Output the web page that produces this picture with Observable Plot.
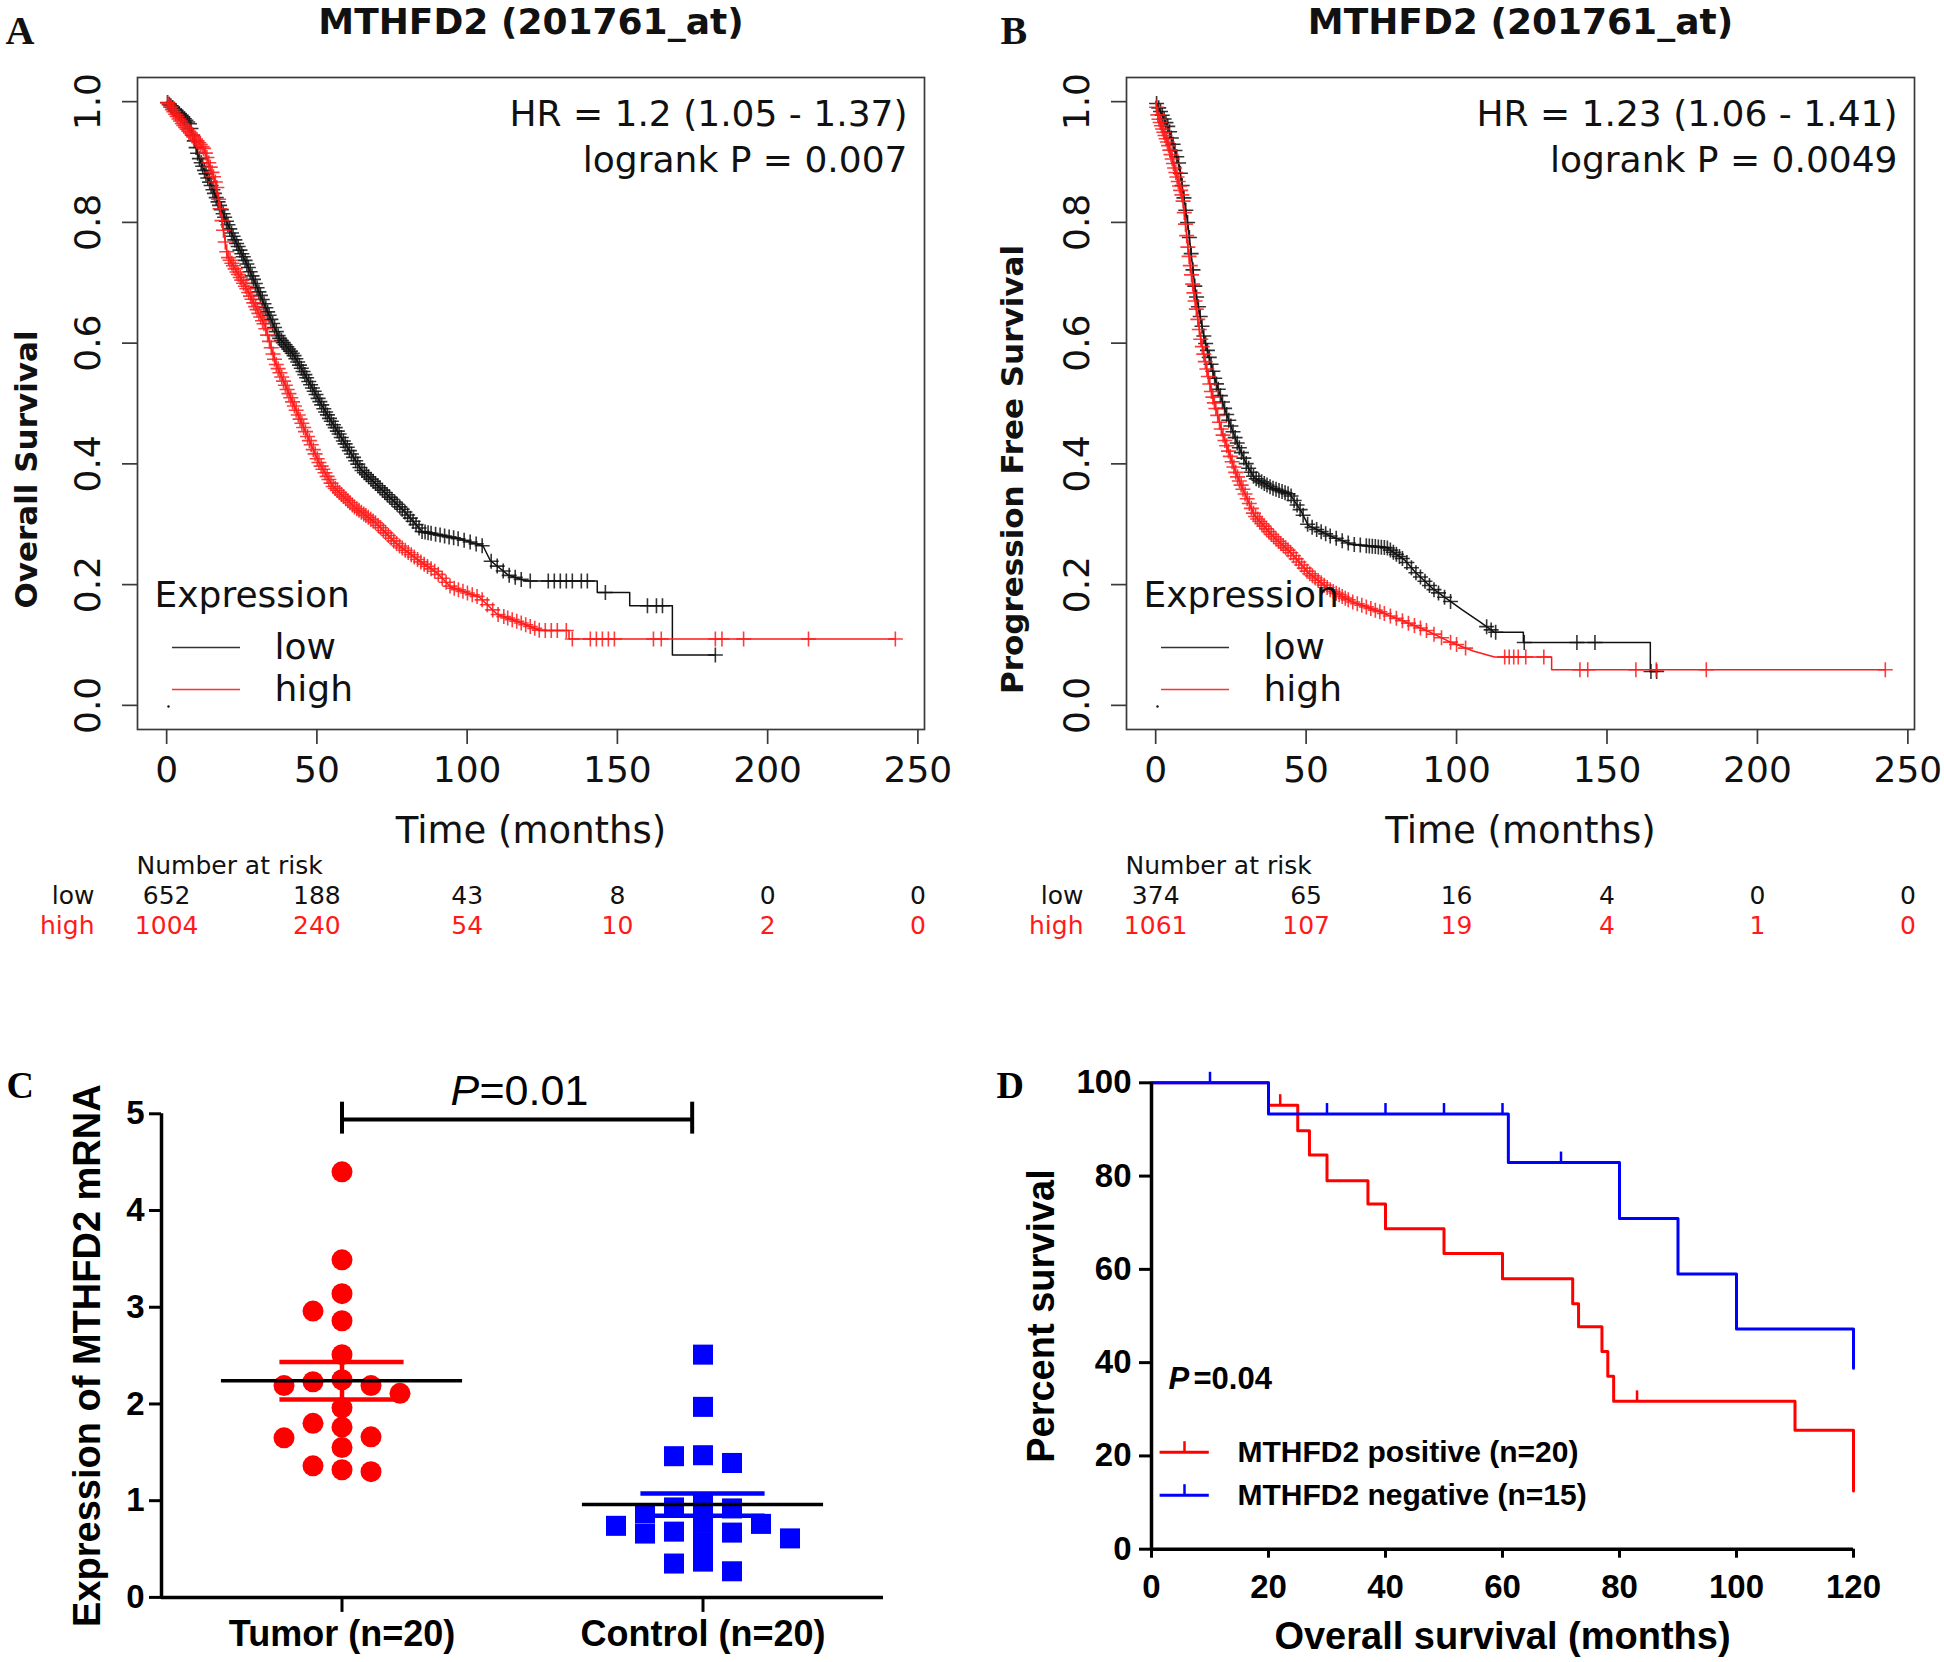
<!DOCTYPE html>
<html><head><meta charset="utf-8">
<script src="https://cdn.jsdelivr.net/npm/d3@7"></script>
<script src="https://cdn.jsdelivr.net/npm/@observablehq/plot@0.6"></script>
<style>
body{margin:0;background:#fff;}
#root{position:relative;width:1944px;height:1662px;overflow:hidden;background:#fff;}
</style></head><body><div id="root"></div>
<script>
// ---------------- Panel A data ----------------
const aTitle = "MTHFD2 (201761_at)";
const aYLabel = "Overall Survival";
const aHR = ["HR = 1.2 (1.05 - 1.37)", "logrank P = 0.007"];
const aLowTime = [0, 7.7, 10.6, 14.8, 18.3, 21.9, 26.7, 32.6, 37.4, 42.2, 46.9, 52.9, 58.8, 64.8, 71.9, 79, 85, 92, 98, 105.3, 107.7, 113.6, 119.6, 143.3, 143.3, 154.1, 154.1, 168.3, 168.3, 182.6];
const aLowSurv = [1.0, 0.963, 0.909, 0.861, 0.82, 0.779, 0.731, 0.663, 0.609, 0.581, 0.540, 0.486, 0.438, 0.390, 0.356, 0.322, 0.288, 0.281, 0.275, 0.264, 0.240, 0.216, 0.206, 0.206, 0.187, 0.187, 0.165, 0.165, 0.0835, 0.0835];
const aHighTime = [0, 5.3, 12.4, 16.6, 20.2, 26.7, 32.7, 36.2, 41, 45.8, 50.5, 55.3, 62.4, 69.6, 76.7, 83.9, 89.8, 94.6, 104.1, 110, 117.2, 124.3, 133.9, 133.9, 242.5];
const aHighSurv = [1.0, 0.963, 0.922, 0.861, 0.745, 0.690, 0.629, 0.568, 0.513, 0.458, 0.404, 0.363, 0.329, 0.302, 0.267, 0.240, 0.220, 0.196, 0.179, 0.151, 0.138, 0.124, 0.124, 0.110, 0.110];
const aLowCensor = [0.3, 0.9, 1.4, 2, 2.6, 3.1, 3.7, 4.2, 4.8, 5.3, 5.9, 6.4, 7, 7.6, 8.1, 8.7, 9.2, 9.8, 10.3, 10.9, 11.5, 12, 12.6, 13.1, 13.7, 14.3, 14.8, 15.4, 15.9, 16.5, 17.1, 17.6, 18.2, 18.8, 19.3, 19.9, 20.4, 21, 21.6, 22.1, 22.7, 23.3, 23.8, 24.4, 25, 25.5, 26.1, 26.7, 27.2, 27.8, 28.4, 28.9, 29.5, 30.1, 30.7, 31.2, 31.8, 32.4, 33, 33.6, 34.1, 34.7, 35.3, 35.9, 36.5, 37.1, 37.6, 38.2, 38.8, 39.4, 40, 40.6, 41.2, 41.8, 42.4, 43, 43.6, 44.2, 44.8, 45.4, 46, 46.6, 47.3, 47.9, 48.5, 49.1, 49.7, 50.4, 51, 51.6, 52.3, 52.9, 53.5, 54.2, 54.8, 55.5, 56.1, 56.8, 57.4, 58.1, 58.8, 59.4, 60.1, 60.8, 61.5, 62.2, 62.9, 63.6, 64.3, 65, 65.8, 66.5, 67.2, 68, 68.7, 69.5, 70.3, 71, 71.8, 72.6, 73.4, 74.2, 75, 75.9, 76.7, 77.6, 78.4, 79.3, 80.2, 81.1, 82, 83, 84, 85, 86, 87, 88, 89.5, 91, 92.5, 94, 95.5, 97, 99, 101, 103, 105, 108, 110, 112, 114, 116, 118, 121, 127, 129, 131, 133, 135, 138, 140, 146, 160, 163, 165, 182.6];
const aHighCensor = [0.3, 0.8, 1.3, 1.9, 2.4, 3, 3.5, 4.1, 4.6, 5.2, 5.7, 6.3, 6.8, 7.4, 7.9, 8.5, 9, 9.6, 10.1, 10.7, 11.2, 11.8, 12.3, 12.9, 13.4, 14, 14.5, 15.1, 15.6, 16.2, 16.7, 17.3, 17.8, 18.4, 18.9, 19.5, 20, 20.6, 21.1, 21.7, 22.2, 22.8, 23.4, 23.9, 24.5, 25, 25.6, 26.2, 26.7, 27.3, 27.9, 28.4, 29, 29.6, 30.1, 30.7, 31.3, 31.9, 32.4, 33, 33.6, 34.2, 34.8, 35.4, 35.9, 36.5, 37.1, 37.7, 38.3, 38.9, 39.5, 40.1, 40.7, 41.3, 41.9, 42.5, 43.1, 43.8, 44.4, 45, 45.6, 46.2, 46.9, 47.5, 48.1, 48.8, 49.4, 50.1, 50.7, 51.4, 52, 52.7, 53.4, 54, 54.7, 55.4, 56.1, 56.8, 57.5, 58.2, 58.9, 59.6, 60.3, 61, 61.8, 62.5, 63.3, 64, 64.8, 65.6, 66.3, 67.1, 67.9, 68.7, 69.5, 70.4, 71.2, 72.1, 72.9, 73.8, 74.7, 75.6, 76.5, 77.5, 78.4, 79.4, 80.4, 81.4, 82.4, 83.5, 84.6, 85.7, 86.8, 88, 89.2, 90.4, 91.7, 93, 94.3, 95.7, 97.1, 98.6, 100.1, 101.7, 103.3, 105, 106.7, 108.5, 110.3, 112.2, 113.5, 115, 116.5, 118, 119.5, 121, 122.5, 124, 126, 128, 130, 133, 135, 141, 143, 145, 147, 149, 162, 164.6, 182.6, 184.8, 192, 213.6, 242.5];
// ---------------- Panel B data ----------------
const bTitle = "MTHFD2 (201761_at)";
const bYLabel = "Progression Free Survival";
const bHR = ["HR = 1.23 (1.06 - 1.41)", "logrank P = 0.0049"];
const bLowTime = [0, 4.2, 7.8, 10.8, 13.1, 16.1, 19.7, 23.3, 26.8, 30.4, 32.8, 38.8, 44.7, 48.3, 50.7, 57.8, 65, 76.9, 82.9, 86.4, 92.4, 101.9, 107.9, 112.6, 122.2, 122.2, 164.4, 164.4, 166.5];
const bLowSurv = [1.0, 0.957, 0.895, 0.793, 0.690, 0.609, 0.540, 0.486, 0.438, 0.397, 0.377, 0.360, 0.349, 0.322, 0.298, 0.281, 0.267, 0.261, 0.240, 0.220, 0.192, 0.158, 0.138, 0.121, 0.121, 0.104, 0.104, 0.056, 0.056];
const bHighTime = [0, 0.8, 4.2, 9, 10.7, 12.5, 14.9, 18.5, 22.1, 26.8, 32.8, 38.8, 44.7, 50.7, 57.8, 65, 74.5, 81.6, 90, 98.3, 105.5, 112.6, 131.6, 131.6, 242.5];
const bHighSurv = [1.0, 0.975, 0.929, 0.840, 0.759, 0.690, 0.609, 0.520, 0.452, 0.383, 0.315, 0.281, 0.254, 0.220, 0.192, 0.172, 0.155, 0.141, 0.124, 0.104, 0.090, 0.080, 0.080, 0.059, 0.059];
const bLowCensor = [0.3, 1, 1.6, 2.2, 2.8, 3.4, 4, 4.6, 5.2, 5.8, 6.4, 7, 7.6, 8.2, 8.8, 9.4, 10, 10.6, 11.2, 11.8, 12.4, 13, 13.6, 14.2, 14.8, 15.4, 16, 16.6, 17.2, 17.8, 18.4, 19, 19.6, 20.2, 20.8, 21.5, 22.2, 22.9, 23.6, 24.3, 25, 25.7, 26.4, 27.1, 27.8, 28.5, 29.3, 30.1, 30.9, 31.7, 32.5, 33.4, 34.3, 35.2, 36.1, 37, 38, 39, 40, 41, 42, 43, 44, 45, 46, 47, 48, 49, 50.5, 52, 53.5, 55, 56.5, 58, 60, 62, 64, 66, 68, 70, 71, 72, 73, 74, 75, 76, 77, 78, 79, 80, 81, 82, 83.5, 85, 86.5, 88, 89.5, 91, 92.5, 94, 96, 98, 110, 111.5, 113, 122.5, 140, 146, 164.6, 166.5];
const bHighCensor = [0.3, 0.7, 1.1, 1.5, 1.9, 2.3, 2.7, 3.1, 3.5, 3.9, 4.3, 4.7, 5.1, 5.5, 5.9, 6.3, 6.7, 7.1, 7.5, 7.9, 8.3, 8.7, 9.1, 9.5, 9.9, 10.3, 10.7, 11.1, 11.5, 11.9, 12.3, 12.7, 13.1, 13.5, 14, 14.5, 15, 15.5, 16, 16.5, 17, 17.5, 18, 18.5, 19, 19.5, 20, 20.6, 21.2, 21.8, 22.4, 23, 23.6, 24.2, 24.8, 25.4, 26, 26.6, 27.2, 27.8, 28.4, 29, 29.7, 30.4, 31.1, 31.8, 32.5, 33.2, 33.9, 34.6, 35.3, 36, 36.8, 37.6, 38.4, 39.2, 40, 40.8, 41.6, 42.4, 43.2, 44, 44.9, 45.8, 46.7, 47.6, 48.5, 49.4, 50.3, 51.2, 52.1, 53, 54, 55, 56, 57, 58, 59, 60, 61, 62, 63, 64, 65.5, 67, 68.5, 70, 71.5, 73, 74.5, 76, 78, 80, 82, 84, 86, 88, 90, 92.5, 95, 98, 100, 103, 116, 117.5, 119, 120.5, 123, 129, 141, 143.6, 159.6, 166.4, 183, 242.5];
// ---------------- shared risk table ----------------
const riskTimes = [0, 50, 100, 150, 200, 250];
const aRiskLow = [652, 188, 43, 8, 0, 0];
const aRiskHigh = [1004, 240, 54, 10, 2, 0];
const bRiskLow = [374, 65, 16, 4, 0, 0];
const bRiskHigh = [1061, 107, 19, 4, 1, 0];
const kmXTicks = [0, 50, 100, 150, 200, 250];
const kmYTicks = [0, 0.2, 0.4, 0.6, 0.8, 1.0];
const groupNames = ["low", "high"];
// ---------------- Panel C data ----------------
const cCategories = ["Tumor (n=20)", "Control (n=20)"];
const cYLabel = "Expression of MTHFD2 mRNA";
const tumorExpr = [4.40, 3.49, 3.14, 2.96, 2.86, 2.51, 2.25, 2.23, 2.19, 2.19, 2.11, 1.96, 1.80, 1.76, 1.66, 1.65, 1.55, 1.36, 1.32, 1.30];
const controlExpr = [2.51, 1.97, 1.47, 1.46, 1.39, 0.97, 0.93, 0.92, 0.87, 0.77, 0.76, 0.74, 0.68, 0.67, 0.66, 0.61, 0.57, 0.37, 0.35, 0.27];
const cMeans = [2.24, 0.96];
const cSems = [0.195, 0.115];
const cPValue = "=0.01";
const cYTicks = [0, 1, 2, 3, 4, 5];
// ---------------- Panel D data ----------------
const dPosTime = [0, 20, 25, 27, 30, 37, 40, 50, 60, 72, 73, 77, 78, 79, 110, 120];
const dPosSurv = [100, 95.2, 89.7, 84.5, 79.0, 74.0, 68.7, 63.4, 58.0, 52.6, 47.7, 42.4, 37.1, 31.7, 25.5, 12.5];
const dNegTime = [0, 20, 61, 80, 90, 100, 120];
const dNegSurv = [100, 93.3, 82.9, 70.9, 59.0, 47.2, 38.8];
const dPosCensor = [22, 83];
const dNegCensor = [10, 30, 40, 50, 60, 70];
const dLegend = ["MTHFD2 positive (n=20)", "MTHFD2 negative (n=15)"];
const dPValue = "=0.04";
const dXTicks = [0, 20, 40, 60, 80, 100, 120];
const dYTicks = [0, 20, 40, 60, 80, 100];
const dXLabel = "Overall survival (months)";
const dYLabel = "Percent survival";

// ---------------- helpers ----------------
const root = document.getElementById("root");
function place(el, left, top) {
  el.style.position = "absolute";
  el.style.left = left + "px";
  el.style.top = top + "px";
  root.appendChild(el);
}
function interpLinear(ts, ss, t) {
  let i = 0;
  for (let k = 0; k < ts.length; k++) if (ts[k] <= t) i = k;
  if (i < ts.length - 1 && ts[i + 1] > ts[i]) {
    const f = (t - ts[i]) / (ts[i + 1] - ts[i]);
    return ss[i] + f * (ss[i + 1] - ss[i]);
  }
  return ss[i];
}
function stepValue(ts, ss, t) {
  let i = 0;
  for (let k = 0; k < ts.length; k++) if (ts[k] <= t) i = k;
  return ss[i];
}
const plusSymbol = {draw(ctx, size) {
  const r = Math.sqrt(size / Math.PI);
  ctx.moveTo(-r, 0); ctx.lineTo(r, 0); ctx.moveTo(0, -r); ctx.lineTo(0, r);
}};
const tickUpSymbol = {draw(ctx, size) {
  const r = Math.sqrt(size / Math.PI);
  ctx.moveTo(0, 0); ctx.lineTo(0, -r);
}};
const T = {textAnchor: "middle", lineAnchor: "middle"};

// ---------------- KM panels (A, B) ----------------
function kmPanel(cfg) {
  const svgLeft = cfg.svgLeft, svgW = 972, svgH = 960;
  const frameTop = 77, frameBottom = 729;
  const xd = [-9.7, 252.2], yd = [-0.04, 1.04];
  const fw = cfg.frameRight - cfg.frameLeft, fh = frameBottom - frameTop;
  const pxX = px => xd[0] + px * (xd[1] - xd[0]) / fw;
  const pxY = px => yd[0] + px * (yd[1] - yd[0]) / fh;
  const low = cfg.lowTime.map((t, i) => ({t, s: cfg.lowSurv[i]}));
  const high = cfg.highTime.map((t, i) => ({t, s: cfg.highSurv[i]}));
  const lowC = cfg.lowCensor.map(t => ({t, s: interpLinear(cfg.lowTime, cfg.lowSurv, t)}));
  const highC = cfg.highCensor.map(t => ({t, s: interpLinear(cfg.highTime, cfg.highSurv, t)}));
  const rLow = riskTimes.map((t, i) => ({t, n: cfg.riskLow[i]}));
  const rHigh = riskTimes.map((t, i) => ({t, n: cfg.riskHigh[i]}));
  const RED = "#ff1a1a", BLK = "#111";
  const legendRows = [{name: groupNames[0], color: "#333", y: pxY(82)}, {name: groupNames[1], color: "#ff3030", y: pxY(40)}];
  return Plot.plot({
    width: svgW, height: svgH,
    marginLeft: cfg.frameLeft - svgLeft, marginRight: svgLeft + svgW - cfg.frameRight,
    marginTop: frameTop, marginBottom: svgH - frameBottom,
    x: {domain: xd}, y: {domain: yd},
    style: {fontFamily: "DejaVu Sans", background: "transparent", overflow: "visible", color: BLK},
    marks: [
      Plot.frame({stroke: "#3a3a3a", strokeWidth: 1.7}),
      Plot.axisX({ticks: kmXTicks, tickSize: 15, tickFormat: () => "", stroke: "#3a3a3a", strokeWidth: 1.7, label: null}),
      Plot.axisY({ticks: kmYTicks, tickSize: 15, tickFormat: () => "", stroke: "#3a3a3a", strokeWidth: 1.7, label: null}),
      Plot.text(kmXTicks, {...T, x: d => d, text: d => String(d), frameAnchor: "bottom", dy: 41, fontSize: 36, fill: BLK}),
      Plot.text(kmYTicks, {...T, y: d => d, text: d => d.toFixed(1), frameAnchor: "left", dx: -49, rotate: -90, fontSize: 36, fill: BLK}),
      Plot.text([cfg.yLabel], {...T, text: d => d, frameAnchor: "left", dx: cfg.yLabelX - cfg.frameLeft, dy: 66, rotate: -90, fontSize: 31, fontWeight: "bold", fill: BLK}),
      Plot.text(["Time (months)"], {...T, text: d => d, frameAnchor: "bottom", dy: 102, fontSize: 37, fill: BLK}),
      Plot.text([cfg.title], {...T, text: d => d, frameAnchor: "top", dy: -55, fontSize: 36, fontWeight: "bold", fill: BLK}),
      Plot.text([cfg.letter], {text: d => d, frameAnchor: "top-left", textAnchor: "start", lineAnchor: "middle", dx: cfg.letterX - cfg.frameLeft, dy: -46, fontSize: 40, fontWeight: "bold", fontFamily: "Liberation Serif", fill: BLK}),
      Plot.text([cfg.hr[0]], {text: d => d, frameAnchor: "top-right", textAnchor: "end", lineAnchor: "middle", dx: -17, dy: 37, fontSize: 36, fill: BLK}),
      Plot.text([cfg.hr[1]], {text: d => d, frameAnchor: "top-right", textAnchor: "end", lineAnchor: "middle", dx: -17, dy: 83, fontSize: 36, fill: BLK}),
      // curves
      Plot.line(low, {x: "t", y: "s", stroke: BLK, strokeWidth: 1.5}),
      Plot.dot(lowC, {x: "t", y: "s", symbol: plusSymbol, r: 7.5, stroke: BLK, fill: "none", strokeWidth: 1.6, strokeOpacity: 0.85}),
      Plot.line(high, {x: "t", y: "s", stroke: RED, strokeWidth: 1.5}),
      Plot.dot(highC, {x: "t", y: "s", symbol: plusSymbol, r: 7.5, stroke: RED, fill: "none", strokeWidth: 1.6, strokeOpacity: 0.85}),
      // legend
      Plot.text(["Expression"], {text: d => d, frameAnchor: "bottom-left", textAnchor: "start", lineAnchor: "middle", dx: 17, dy: -134, fontSize: 36, fill: BLK}),
      Plot.ruleY(legendRows, {y: "y", x1: pxX(35), x2: pxX(103), stroke: "color", strokeWidth: 1.5}),
      Plot.text(legendRows, {text: "name", y: "y", x: pxX(137), textAnchor: "start", lineAnchor: "middle", fontSize: 36, fill: BLK}),
      Plot.dot([0], {x: pxX(31), y: pxY(23), r: 1.2, fill: BLK}),
      // number at risk
      Plot.text(["Number at risk"], {text: d => d, frameAnchor: "bottom-left", textAnchor: "start", lineAnchor: "middle", dx: -1, dy: 136, fontSize: 25, fill: BLK}),
      Plot.text([groupNames[0]], {text: d => d, frameAnchor: "bottom-left", textAnchor: "end", lineAnchor: "middle", dx: -43, dy: 166, fontSize: 25, fill: BLK}),
      Plot.text([groupNames[1]], {text: d => d, frameAnchor: "bottom-left", textAnchor: "end", lineAnchor: "middle", dx: -43, dy: 196, fontSize: 25, fill: RED}),
      Plot.text(rLow, {...T, x: "t", text: d => String(d.n), frameAnchor: "bottom", dy: 166, fontSize: 25, fill: BLK}),
      Plot.text(rHigh, {...T, x: "t", text: d => String(d.n), frameAnchor: "bottom", dy: 196, fontSize: 25, fill: RED})
    ]
  });
}

const pA = kmPanel({svgLeft: 0, frameLeft: 137, frameRight: 924, title: aTitle, letter: "A", letterX: 5, yLabel: aYLabel, yLabelX: 27,
  hr: aHR, lowTime: aLowTime, lowSurv: aLowSurv, highTime: aHighTime, highSurv: aHighSurv, lowCensor: aLowCensor, highCensor: aHighCensor,
  riskLow: aRiskLow, riskHigh: aRiskHigh});
place(pA, 0, 0);
const pB = kmPanel({svgLeft: 972, frameLeft: 1126, frameRight: 1914, title: bTitle, letter: "B", letterX: 1000, yLabel: bYLabel, yLabelX: 1013,
  hr: bHR, lowTime: bLowTime, lowSurv: bLowSurv, highTime: bHighTime, highSurv: bHighSurv, lowCensor: bLowCensor, highCensor: bHighCensor,
  riskLow: bRiskLow, riskHigh: bRiskHigh});
place(pB, 972, 0);

// ---------------- Panel C (dot plot) ----------------
function swarm(values, g, yPx, xPx, slotPx, minGap) {
  const placed = [], out = [];
  const order = values.map((v, i) => i).sort((a, b) => values[b] - values[a]);
  for (const i of order) {
    const v = values[i];
    for (let k = 0; k < 40; k++) {
      const slot = k === 0 ? 0 : (k % 2 ? -Math.ceil(k / 2) : k / 2);
      if (!placed.some(p => p.slot === slot && Math.abs(p.v - v) * yPx < minGap)) {
        placed.push({slot, v});
        out.push({x: g + slot * slotPx / xPx, y: v});
        break;
      }
    }
  }
  return out;
}
{
  const pxPerX = 361, pxPerY = 96.72;
  const tumorPts = swarm(tumorExpr, 0, pxPerY, pxPerX, 29, 19);
  const controlPts = swarm(controlExpr, 1, pxPerY, pxPerX, 29, 19);
  const cStats = cMeans.map((m, i) => ({g: i, mean: m, lo: m - cSems[i], hi: m + cSems[i], color: i ? "#0000ff" : "#ff0000"}));
  const F = {fontFamily: "Liberation Sans", fill: "#000"};
  const pC = Plot.plot({
    width: 972, height: 622, marginLeft: 161, marginRight: 89, marginTop: 73.3, marginBottom: 65.1,
    x: {domain: [-0.5, 1.5]}, y: {domain: [0, 5]},
    style: {fontFamily: "Liberation Sans", background: "transparent", overflow: "visible", color: "#000"},
    marks: [
      Plot.dot(tumorPts, {x: "x", y: "y", r: 10.5, fill: "#ff0000", symbol: "circle"}),
      Plot.dot(controlPts, {x: "x", y: "y", r: 11.3, fill: "#0000ff", symbol: "square"}),
      Plot.ruleY(cStats, {y: "hi", x1: d => d.g - 0.172, x2: d => d.g + 0.172, stroke: "color", strokeWidth: 4.5}),
      Plot.ruleY(cStats, {y: "lo", x1: d => d.g - 0.172, x2: d => d.g + 0.172, stroke: "color", strokeWidth: 4.5}),
      Plot.ruleX(cStats, {x: "g", y1: "lo", y2: "hi", stroke: "color", strokeWidth: 4.5}),
      Plot.ruleY(cStats, {y: "mean", x1: d => d.g - 0.334, x2: d => d.g + 0.334, stroke: "#000", strokeWidth: 3.5}),
      Plot.ruleX([-0.5], {y1: 0, y2: 5, stroke: "#000", strokeWidth: 3.5}),
      Plot.ruleY([0], {x1: -0.5, x2: 1.5, stroke: "#000", strokeWidth: 3.5}),
      Plot.axisY({ticks: cYTicks, tickSize: 12, tickFormat: () => "", stroke: "#000", strokeWidth: 3, label: null}),
      Plot.axisX({ticks: [0, 1], tickSize: 15, tickFormat: () => "", stroke: "#000", strokeWidth: 3, label: null}),
      Plot.text(cYTicks, {...F, y: d => d, text: d => String(d), frameAnchor: "left", textAnchor: "end", lineAnchor: "middle", dx: -17, fontSize: 33, fontWeight: "bold"}),
      Plot.text(cCategories, {...F, ...T, x: (d, i) => i, text: d => d, frameAnchor: "bottom", dy: 37, fontSize: 36, fontWeight: "bold"}),
      Plot.text([cYLabel], {...F, ...T, text: d => d, frameAnchor: "left", rotate: -90, dx: -74, fontSize: 38, fontWeight: "bold"}),
      // significance bracket
      Plot.ruleY([4.94], {x1: 0, x2: 0.97, stroke: "#000", strokeWidth: 4}),
      Plot.ruleX([0, 0.97], {y1: 4.79, y2: 5.12, stroke: "#000", strokeWidth: 4}),
      Plot.text(["P"], {...F, text: d => d, x: 0.5, y: 5.23, dx: -72, textAnchor: "start", lineAnchor: "middle", fontStyle: "italic", fontSize: 43}),
      Plot.text([cPValue], {...F, text: d => d, x: 0.5, y: 5.23, dx: -43, textAnchor: "start", lineAnchor: "middle", fontSize: 43}),
      Plot.text(["C"], {text: d => d, frameAnchor: "top-left", textAnchor: "start", lineAnchor: "middle", dx: -155, dy: -28, fontSize: 38, fontWeight: "bold", fontFamily: "Liberation Serif", fill: "#000"})
    ]
  });
  place(pC, 0, 1040);
}

// ---------------- Panel D (Kaplan-Meier, GraphPad style) ----------------
{
  const RED = "#ff0000", BLUE = "#0000ff";
  const pos = dPosTime.map((t, i) => ({t, s: dPosSurv[i]}));
  const neg = dNegTime.map((t, i) => ({t, s: dNegSurv[i]}));
  const posC = dPosCensor.map(t => ({t, s: stepValue(dPosTime, dPosSurv, t)}));
  const negC = dNegCensor.map(t => ({t, s: stepValue(dNegTime, dNegSurv, t)}));
  const fw = 702, fh = 466.4;
  const px2x = px => px * 120 / fw, px2y = px => px * 100 / fh;
  const legendRows = [{name: dLegend[0], color: RED, y: px2y(97)}, {name: dLegend[1], color: BLUE, y: px2y(54)}];
  const F = {fontFamily: "Liberation Sans", fill: "#000", fontWeight: "bold"};
  const pD = Plot.plot({
    width: 972, height: 622, marginLeft: 179, marginRight: 91, marginTop: 42.3, marginBottom: 113.3,
    x: {domain: [0, 120]}, y: {domain: [0, 100]},
    style: {fontFamily: "Liberation Sans", background: "transparent", overflow: "visible", color: "#000"},
    marks: [
      Plot.line(pos, {x: "t", y: "s", curve: "step-after", stroke: RED, strokeWidth: 3}),
      Plot.dot(posC, {x: "t", y: "s", symbol: tickUpSymbol, r: 11, stroke: RED, fill: "none", strokeWidth: 2.5}),
      Plot.line(neg, {x: "t", y: "s", curve: "step-after", stroke: BLUE, strokeWidth: 3}),
      Plot.dot(negC, {x: "t", y: "s", symbol: tickUpSymbol, r: 11, stroke: BLUE, fill: "none", strokeWidth: 2.5}),
      Plot.ruleX([0], {y1: 0, y2: 100, stroke: "#000", strokeWidth: 3.5}),
      Plot.ruleY([0], {x1: 0, x2: 120, stroke: "#000", strokeWidth: 3.5}),
      Plot.axisX({ticks: dXTicks, tickSize: 9, tickFormat: () => "", stroke: "#000", strokeWidth: 3, label: null}),
      Plot.axisY({ticks: dYTicks, tickSize: 12, tickFormat: () => "", stroke: "#000", strokeWidth: 3, label: null}),
      Plot.text(dXTicks, {...F, ...T, x: d => d, text: d => String(d), frameAnchor: "bottom", dy: 38, fontSize: 33}),
      Plot.text(dYTicks, {...F, y: d => d, text: d => String(d), frameAnchor: "left", textAnchor: "end", lineAnchor: "middle", dx: -20, fontSize: 33}),
      Plot.text([dXLabel], {...F, ...T, text: d => d, frameAnchor: "bottom", dy: 88, fontSize: 38}),
      Plot.text([dYLabel], {...F, ...T, text: d => d, frameAnchor: "left", rotate: -90, dx: -110, fontSize: 38}),
      // legend
      Plot.ruleY(legendRows, {y: "y", x1: px2x(8.6), x2: px2x(57.8), stroke: "color", strokeWidth: 3}),
      Plot.dot(legendRows, {x: px2x(33), y: "y", symbol: tickUpSymbol, r: 11, stroke: "color", fill: "none", strokeWidth: 2.5}),
      Plot.text(legendRows, {...F, text: "name", x: px2x(86), y: "y", textAnchor: "start", lineAnchor: "middle", fontSize: 30}),
      // p value
      Plot.text(["P"], {...F, text: d => d, x: px2x(17), y: px2y(169.7), textAnchor: "start", lineAnchor: "middle", fontStyle: "italic", fontSize: 31}),
      Plot.text([dPValue], {...F, text: d => d, x: px2x(42), y: px2y(169.7), textAnchor: "start", lineAnchor: "middle", fontSize: 31}),
      Plot.text(["D"], {text: d => d, frameAnchor: "top-left", textAnchor: "start", lineAnchor: "middle", dx: -155, dy: 3, fontSize: 38, fontWeight: "bold", fontFamily: "Liberation Serif", fill: "#000"})
    ]
  });
  place(pD, 972, 1040);
}
</script>
</body></html>
